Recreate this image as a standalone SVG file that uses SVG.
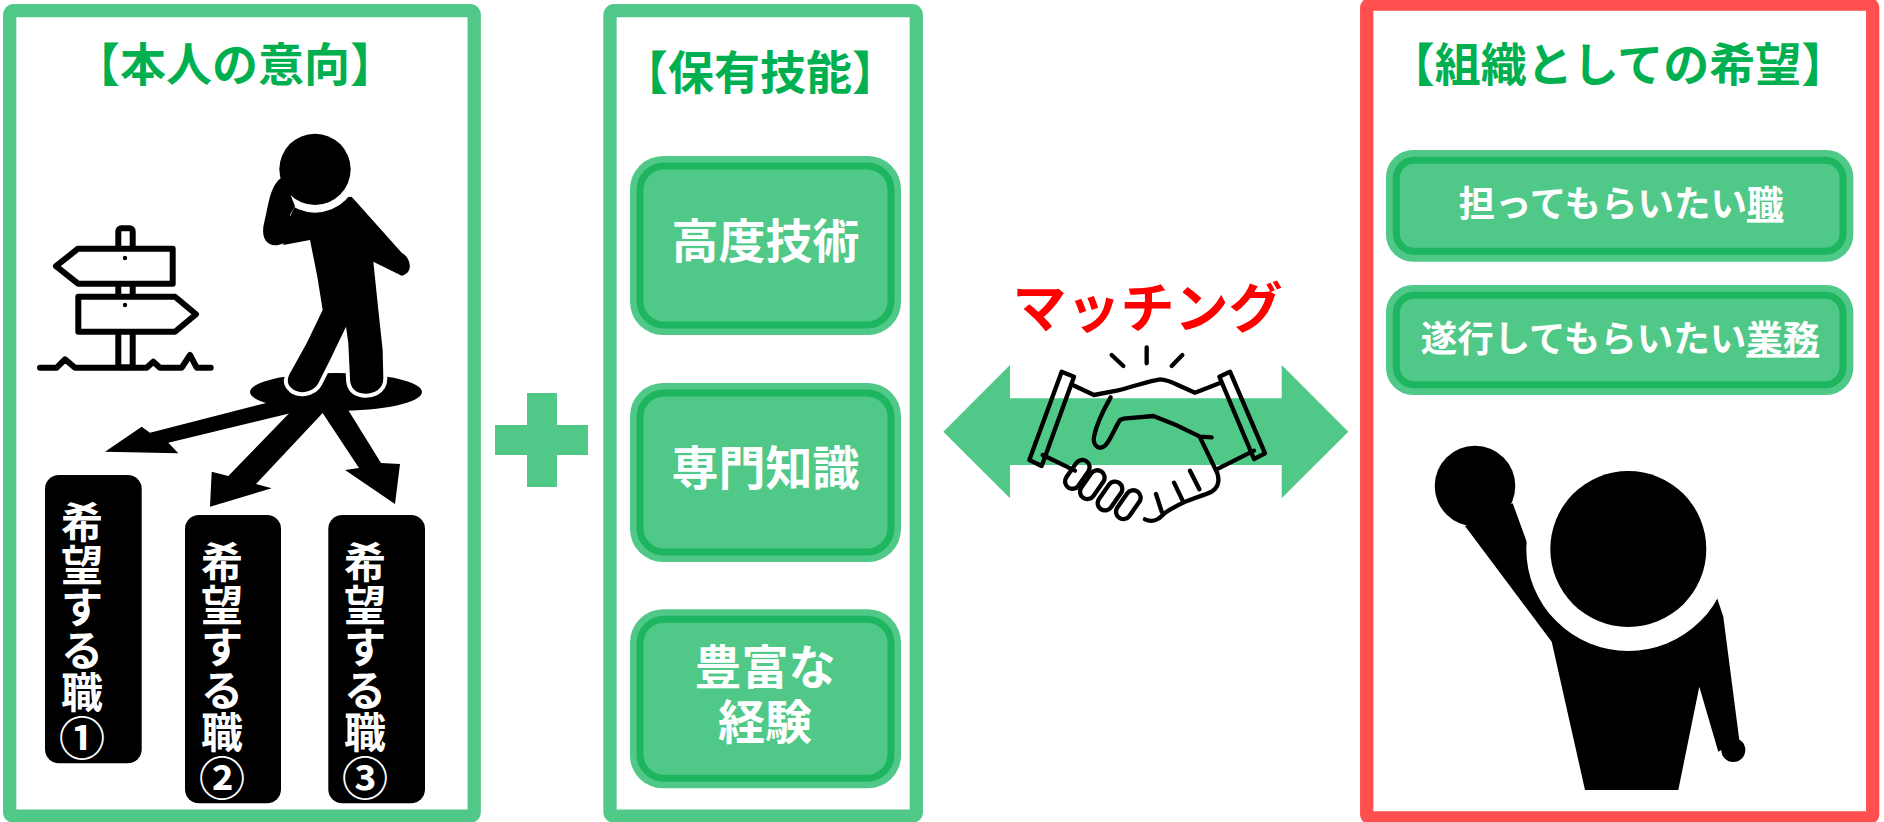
<svg xmlns="http://www.w3.org/2000/svg" width="1884" height="822" viewBox="0 0 1884 822">
  <style>
    text { font-family: "Liberation Sans", "Noto Sans CJK JP", sans-serif; font-weight: 700; text-anchor: middle; }
    .frame-g { fill: #fff; stroke: #50C888; stroke-width: 13.3; }
    .frame-r { fill: #fff; stroke: #FF4F4F; stroke-width: 13.3; }
    .title { fill: #00B050; font-size: 46px; }
    .pill-out { fill: #50C888; }
    .pill-in { fill: #50C888; stroke: #1DB55F; stroke-width: 7; }
    .pill-txt { fill: #fff; font-size: 47px; }
    .want-txt { fill: #fff; font-size: 36.5px; }
    .job { fill: #000; }
    .job-txt { fill: #fff; font-size: 42px; }
    .num { font-size: 46px; }
    .ink { fill: #000; }
    .sign { fill: #fff; stroke: #000; stroke-width: 6; stroke-linejoin: round; stroke-linecap: round; }
    .hs { fill: none; stroke: #000; stroke-width: 13; stroke-linejoin: round; stroke-linecap: round; }
  </style>

  <!-- panel frames -->
  <rect id="panel-intent" class="frame-g" x="9.7" y="10.7" width="464.5" height="805.5" rx="4"/>
  <rect id="panel-skills" class="frame-g" x="610" y="10.7" width="306.3" height="805.5" rx="4"/>
  <rect id="panel-org" class="frame-r" x="1366.7" y="4" width="506" height="814" rx="4"/>

  <!-- titles -->
  <text class="title" x="235" y="81">【本人の意向】</text>
  <text class="title" x="760" y="89">【保有技能】</text>
  <text class="title" x="1618" y="81">【組織としての希望】</text>

  <!-- signpost -->
  <g id="signpost">
    <path class="sign" fill="none" d="M40,367.7 L56.7,367.7 L65,359.3 L75,367.7 L146.7,367.7 L153.3,361.7 L160,367.7 L181.7,367.7 L190,355 L196.7,367.7 L210.7,367.7"/>
    <rect class="sign" x="118.3" y="228.3" width="14.4" height="139" rx="3"/>
    <path class="sign" d="M78,248.7 L172.7,248.7 L172.7,283.7 L78,283.7 L56,266.2 Z"/>
    <path class="sign" d="M78.3,296.7 L175,296.7 L196,314.2 L175,331.7 L78.3,331.7 Z"/>
    <circle class="ink" cx="125" cy="258" r="2.2"/>
    <circle class="ink" cx="125" cy="305" r="2.2"/>
  </g>

  <!-- hole under the standing figure -->
  <ellipse id="hole" class="ink" cx="336" cy="392" rx="86" ry="19"/>

  <!-- connectors -->
  <g id="connectors">
    <polygon class="ink" points="105,451.7 141.7,426.7 150,432.7 280,399.4 310,408.4 168.3,442.7 178.3,453.3"/>
    <polygon class="ink" points="210,506.7 211.7,471.7 228.3,476 302,400 333,402 256,484 271.7,488.3"/>
    <polygon class="ink" points="395,504 345,470 359,468 314,400 342,400 381,463 400,464"/>
    <polygon id="match-arrow" fill="#50C888" points="943.3,431.7 1010,365 1010,398.3 1281.7,398.3 1281.7,365 1348.3,431.7 1281.7,498.3 1281.7,465 1010,465 1010,498.3"/>
  </g>

  <!-- thinking figure -->
  <g id="thinker" transform="translate(230 130) scale(0.33333)">
    <path class="ink" stroke="#fff" stroke-width="24" paint-order="stroke" stroke-linejoin="round"
      d="M200,215 L365,200 L515,368 C545,385 550,430 515,437 L430,395 L445,540 L458,660 L460,745 C460,785 420,795 395,790 C368,785 360,765 360,745 L355,640 L348,590 L300,690 L265,760 C250,790 200,795 182,772 C170,760 172,745 180,730 L230,640 L278,540 L262,440 L240,330 L160,345 L180,260 Z"/>
    <circle fill="#fff" cx="255" cy="118" r="130"/>
    <path class="ink" d="M160,140 C138,150 124,178 115,220 L100,290 C95,330 115,350 145,345 L205,328 L240,330 L238,300 L185,285 L180,255 L195,228 Z"/>
    <circle class="ink" cx="255" cy="118" r="107"/>
  </g>

  <!-- wished jobs -->
  <g id="job-1">
    <rect class="job" x="45" y="475" width="96.7" height="288.3" rx="14"/>
    <text class="job-txt"><tspan x="82" y="538">希</tspan><tspan x="82" y="580.6">望</tspan><tspan x="82" y="623.2">す</tspan><tspan x="82" y="665.8">る</tspan><tspan x="82" y="708.4">職</tspan><tspan class="num" x="82" y="755">①</tspan></text>
  </g>
  <g id="job-2">
    <rect class="job" x="185" y="515" width="96" height="288.3" rx="14"/>
    <text class="job-txt"><tspan x="222" y="578">希</tspan><tspan x="222" y="620.6">望</tspan><tspan x="222" y="663.2">す</tspan><tspan x="222" y="705.8">る</tspan><tspan x="222" y="748.4">職</tspan><tspan class="num" x="222" y="795">②</tspan></text>
  </g>
  <g id="job-3">
    <rect class="job" x="328.3" y="515" width="96.7" height="288.3" rx="14"/>
    <text class="job-txt"><tspan x="365" y="578">希</tspan><tspan x="365" y="620.6">望</tspan><tspan x="365" y="663.2">す</tspan><tspan x="365" y="705.8">る</tspan><tspan x="365" y="748.4">職</tspan><tspan class="num" x="365" y="795">③</tspan></text>
  </g>

  <!-- plus sign -->
  <g id="plus" fill="#50C888">
    <rect x="495" y="425" width="93" height="30"/>
    <rect x="527" y="393" width="30" height="94"/>
  </g>

  <!-- skills -->
  <g id="skill-tech">
    <rect class="pill-out" x="630" y="156" width="271" height="179" rx="33"/>
    <rect class="pill-in" x="640" y="166" width="251" height="159" rx="24"/>
    <text class="pill-txt" x="765.5" y="258">高度技術</text>
  </g>
  <g id="skill-know">
    <rect class="pill-out" x="630" y="383" width="271" height="179" rx="33"/>
    <rect class="pill-in" x="640" y="393" width="251" height="159" rx="24"/>
    <text class="pill-txt" x="765.5" y="485">専門知識</text>
  </g>
  <g id="skill-exp">
    <rect class="pill-out" x="630" y="609.3" width="271" height="179" rx="33"/>
    <rect class="pill-in" x="640" y="619.3" width="251" height="159" rx="24"/>
    <text class="pill-txt" x="765" y="684">豊富な</text>
    <text class="pill-txt" x="765" y="739">経験</text>
  </g>

  <!-- matching label and handshake -->
  <text id="matching" x="1147.5" y="328" font-size="54" fill="#FF0000">マッチング</text>
  <g id="handshake" transform="translate(1020 340) scale(0.33333)">
    <path class="hs" stroke-width="15" d="M275,45 L310,78 M380,22 L380,70 M487,45 L455,78"/>
    <polygon class="hs" points="125,95 162,110 65,378 28,360"/>
    <polygon class="hs" points="598,110 630,95 735,340 702,357"/>
    <path class="hs" d="M158,135 L222,165 L290,152 C340,140 390,122 420,118 C440,118 460,128 480,138 L525,158 L598,130"/>
    <path class="hs" d="M68,345 L165,392"/>
    <path class="hs" d="M702,332 L590,388"/>
    <path class="hs" d="M272,172 C250,210 230,250 222,290 C218,318 238,332 256,316 C272,300 285,262 300,240 L310,236 L400,228 L470,256 L540,290 L575,292"/>
    <path class="hs" d="M540,292 L585,385 C600,410 600,440 575,455 C545,468 510,478 490,488 C465,500 440,512 428,525 C415,540 395,548 375,538"/>
    <path class="hs" d="M510,392 L538,448 M462,428 L488,482 M408,462 L425,515"/>
    <g class="hs" fill="#fff">
      <rect x="-48" y="-22" width="96" height="44" rx="22" transform="translate(325 494) rotate(-55)"/>
      <rect x="-48" y="-22" width="96" height="44" rx="22" transform="translate(270 468) rotate(-55)"/>
      <rect x="-48" y="-22" width="96" height="44" rx="22" transform="translate(217 434) rotate(-55)"/>
      <rect x="-48" y="-22" width="96" height="44" rx="22" transform="translate(172 403) rotate(-55)"/>
    </g>
  </g>

  <!-- organisation wishes -->
  <g id="want-role">
    <rect class="pill-out" x="1386" y="150" width="467.3" height="111.7" rx="27"/>
    <rect class="pill-in" x="1396.3" y="160.3" width="446.7" height="91" rx="18"/>
    <text class="want-txt" x="1621" y="217">担ってもらいたい<tspan text-decoration="underline">職</tspan></text>
  </g>
  <g id="want-task">
    <rect class="pill-out" x="1386" y="285" width="467.3" height="110" rx="27"/>
    <rect class="pill-in" x="1396.3" y="295.3" width="446.7" height="89.4" rx="18"/>
    <text class="want-txt" x="1620" y="352">遂行してもらいたい<tspan text-decoration="underline">業務</tspan></text>
  </g>

  <!-- figure with raised hand -->
  <g id="raised-hand">
    <path class="ink" d="M1465,526 L1551.7,641.7 L1585,790 L1678.3,790 L1699.3,686.7 L1718.3,751.7 L1739.3,740 L1723.3,616.7 L1716.7,596.7 L1628.3,549 L1526.7,541.7 L1512.7,503.3 Z"/>
    <circle fill="#fff" cx="1628.3" cy="549" r="102"/>
    <circle class="ink" cx="1628.3" cy="549" r="78"/>
    <circle class="ink" cx="1475" cy="486" r="40.3"/>
    <circle class="ink" cx="1733.3" cy="750" r="12"/>
  </g>
</svg>
